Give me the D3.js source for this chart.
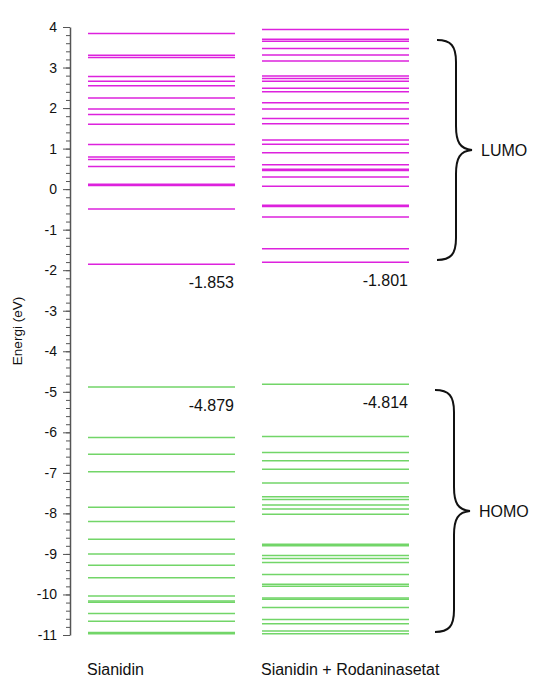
<!DOCTYPE html>
<html>
<head>
<meta charset="utf-8">
<script src="https://cdn.jsdelivr.net/npm/d3@7"></script>
<style>
  body { margin: 0; background: #fff; }
  svg text { font-family: "Liberation Sans", Arial, sans-serif; fill: #111; }
</style>
</head>
<body>
<svg id="chart" width="535" height="677"></svg>
<script>
        // --- data ---
        const categories = ["Sianidin", "Sianidin + Rodaninasetat"];

        const lumoSianidin = [3.84, 3.30, 3.25, 2.78, 2.66, 2.55, 2.25, 1.98, 1.84, 1.60, 1.10,
            0.79, 0.73, 0.56, 0.12, 0.09, -0.49, -1.853];
        const lumoCampuran = [3.94, 3.70, 3.65, 3.47, 3.31, 3.16, 2.79, 2.73, 2.66, 2.49, 2.40,
            2.13, 1.98, 1.74, 1.61, 1.21, 1.11, 0.90, 0.60, 0.49, 0.46, 0.30, 0.07,
            -0.40, -0.43, -0.69, -1.47, -1.801];

        const homoSianidin = [-4.879, -6.13, -6.54, -6.97, -7.85, -8.20, -8.64, -9.00, -9.28, -9.59,
            -10.04, -10.16, -10.19, -10.47, -10.66, -10.94, -10.97];
        const homoCampuran = [-4.814, -6.10, -6.50, -6.70, -6.91, -7.25, -7.59, -7.66, -7.79, -7.89,
            -8.02, -8.76, -8.80, -9.04, -9.11, -9.21, -9.51, -9.75, -9.80, -10.09, -10.12,
            -10.32, -10.62, -10.72, -10.90, -10.97];

        const gapLabels = [
            { cat: 0, value: -1.853, text: "-1.853" },
            { cat: 1, value: -1.801, text: "-1.801" },
            { cat: 0, value: -4.879, text: "-4.879" },
            { cat: 1, value: -4.814, text: "-4.814" }
        ];

        const yTicks = d3.range(-11, 5, 1);
        const minorTicks = d3.range(-11, 4.001, 0.2);

        const magenta = "#dd22dd", green = "#72d568";

        const svg = d3.select("#chart");
        const y = d3.scaleLinear().domain([-11, 4]).range([635, 27]);
        const x = d3.scaleBand().domain(categories).range([88, 409]).paddingInner(0.155);
        const axisX = 70;

        // minor ticks
        svg.append("g").attr("transform", `translate(${axisX},0)`)
            .call(d3.axisLeft(y).tickValues(minorTicks).tickSize(4).tickFormat(""))
            .call(g => g.select(".domain").remove())
            .selectAll("line").attr("stroke", "#555");

        // major axis
        const yAxis = svg.append("g").attr("transform", `translate(${axisX},0)`)
            .call(d3.axisLeft(y).tickValues(yTicks).tickSize(7).tickSizeOuter(0).tickPadding(6).tickFormat(d3.format("d")));
        yAxis.select(".domain").attr("stroke", "#555").attr("stroke-width", 1.5);
        yAxis.selectAll(".tick line").attr("stroke", "#555");
        yAxis.selectAll(".tick text").style("font-size", "14px").attr("fill", "#111");
        yAxis.selectAll(".tick text").text(d => d < 0 ? "-" + Math.abs(d) : d);

        svg.append("text")
            .attr("transform", `translate(22,${y(-3.5)}) rotate(-90)`)
            .attr("text-anchor", "middle")
            .style("font-size", "13.5px")
            .text("Energi (eV)");

        // energy level lines
        const series = [
            { cat: categories[0], values: lumoSianidin, color: magenta },
            { cat: categories[1], values: lumoCampuran, color: magenta },
            { cat: categories[0], values: homoSianidin, color: green },
            { cat: categories[1], values: homoCampuran, color: green }
        ];

        series.forEach(s => {
            svg.append("g").selectAll("line").data(s.values).join("line")
                .attr("x1", x(s.cat))
                .attr("x2", x(s.cat) + x.bandwidth())
                .attr("y1", d => y(d))
                .attr("y2", d => y(d))
                .attr("stroke", s.color)
                .attr("stroke-width", 1.5);
        });

        // HOMO / LUMO values
        svg.append("g").selectAll("text").data(gapLabels).join("text")
            .attr("x", d => x(categories[d.cat]) + x.bandwidth() - 1)
            .attr("y", d => y(d.value) + 24)
            .attr("text-anchor", "end")
            .style("font-size", "16px")
            .text(d => d.text);

        // category labels
        svg.append("g").selectAll("text").data(categories).join("text")
            .attr("x", d => x(d) - 1)
            .attr("y", 675)
            .style("font-size", "16px")
            .text(d => d);

        // braces
        function brace(x0, top, bottom, tipX) {
            const mid = (top + bottom) / 2, xv = x0 + 19;
            return `M ${x0} ${top} C ${x0 + 14} ${top} ${xv} ${top + 6} ${xv} ${top + 22}`
                + ` L ${xv} ${mid - 24} C ${xv} ${mid - 8} ${xv + 4} ${mid - 1} ${tipX} ${mid}`
                + ` C ${xv + 4} ${mid + 1} ${xv} ${mid + 8} ${xv} ${mid + 24}`
                + ` L ${xv} ${bottom - 22} C ${xv} ${bottom - 6} ${x0 + 14} ${bottom} ${x0} ${bottom}`;
        }

        const braces = [
            { label: "LUMO", top: 40, bottom: 260, x0: 437 },
            { label: "HOMO", top: 390, bottom: 632, x0: 435 }
        ];

        braces.forEach(b => {
            svg.append("path")
                .attr("d", brace(b.x0, b.top, b.bottom, b.x0 + 35))
                .attr("fill", "none")
                .attr("stroke", "#111")
                .attr("stroke-width", 2);
            svg.append("text")
                .attr("x", b.x0 + 44)
                .attr("y", (b.top + b.bottom) / 2 + 6)
                .style("font-size", "16px")
                .text(b.label);
        });
</script>
</body>
</html>
